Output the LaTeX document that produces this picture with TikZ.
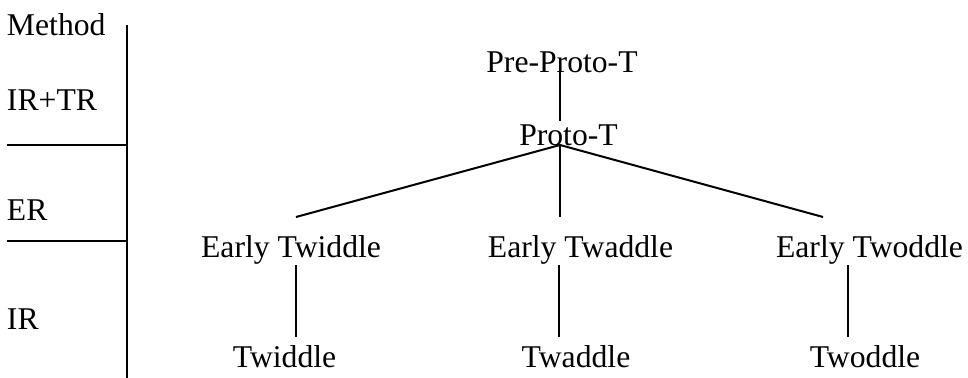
\documentclass[tikz,border=0pt]{standalone}
\usepackage{fontspec}
\setmainfont{Liberation Serif}
\begin{document}
\begin{tikzpicture}[x=0.75pt,y=-0.75pt,
  lbl/.style={inner sep=0pt,outer sep=0pt,font=\fontsize{23.75}{28}\selectfont},
  lft/.style={lbl,anchor=base west},
  ctr/.style={lbl,anchor=base},
  ln/.style={line width=1.5pt}]
\useasboundingbox (0,0) rectangle (968,378);
% method column
\node[lft] (method) at (7,36) {Method};
\node[lft] (irtr) at (7,111) {IR+TR};
\node[lft] (er) at (7,220) {ER};
\node[lft] (ir) at (7,329) {IR};
\coordinate (vtop) at (127,25);
\coordinate (vbot) at (127,378);
\coordinate (h1l) at (7,145);
\coordinate (h1r) at (127,145);
\coordinate (h2l) at (7,241);
\coordinate (h2r) at (127,241);
\draw[ln] (vtop) -- (vbot);
\draw[ln] (h1l) -- (h1r);
\draw[ln] (h2l) -- (h2r);
% tree
\node[ctr] (ppt) at (562,73) {Pre-Proto-T};
\node[ctr] (pt) at (568.5,146) {Proto-T};
\node[ctr] (etwi) at (291,257) {Early Twiddle};
\node[ctr] (etwa) at (580.5,257) {Early Twaddle};
\node[ctr] (etwo) at (869.5,257) {Early Twoddle};
\node[ctr] (twi) at (284.5,367) {Twiddle};
\node[ctr] (twa) at (576,367) {Twaddle};
\node[ctr] (two) at (865,367) {Twoddle};
\coordinate (a1) at (560,72);
\coordinate (a2) at (560,121);
\coordinate (hub) at (560,145);
\coordinate (b1) at (296,217);
\coordinate (b2) at (560,217);
\coordinate (b3) at (823,217);
\coordinate (c1t) at (296,265);
\coordinate (c1b) at (296,337);
\coordinate (c2t) at (559,265);
\coordinate (c2b) at (559,337);
\coordinate (c3t) at (848,265);
\coordinate (c3b) at (848,337);
\draw[ln] (a1) -- (a2);
\draw[ln] (hub) -- (b1);
\draw[ln] (hub) -- (b2);
\draw[ln] (hub) -- (b3);
\draw[ln] (c1t) -- (c1b);
\draw[ln] (c2t) -- (c2b);
\draw[ln] (c3t) -- (c3b);
\end{tikzpicture}
\end{document}
